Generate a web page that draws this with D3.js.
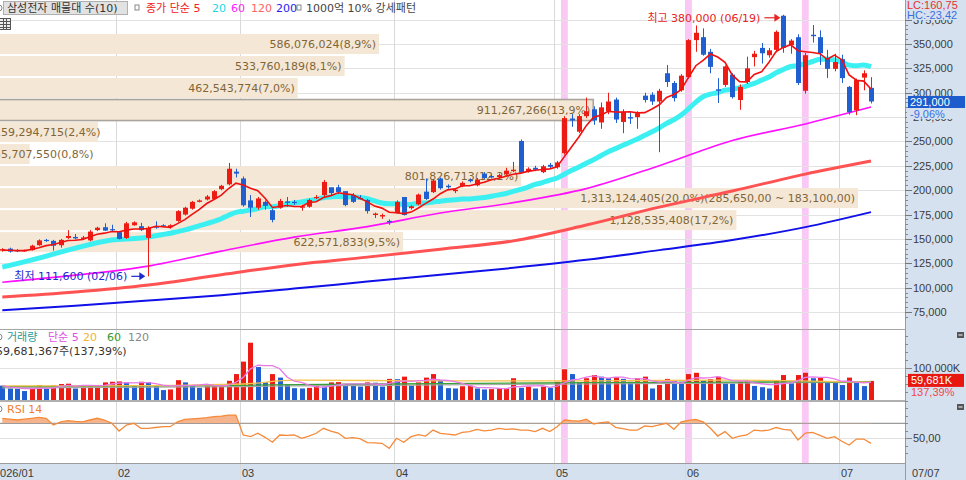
<!DOCTYPE html>
<html><head><meta charset="utf-8">
<script src="https://cdn.jsdelivr.net/npm/d3@7"></script>
<style>
html,body{margin:0;padding:0;background:#fff;overflow:hidden}
svg{display:block}
text{font-family:"DejaVu Sans","Noto Sans CJK KR",sans-serif;font-size:11px}
.ax{font-family:"Liberation Sans","Noto Sans CJK KR",sans-serif;font-size:11px;fill:#3a3a3a}
</style></head><body>
<svg id="c" width="966" height="480"></svg>
<script>
// ---------------- DATA ----------------
const opens = [138000,140000,138500,137500,138500,143500,149000,148000,143500,151000,
152000,150000,148500,159000,162000,160000,157000,151000,164000,163000,
151000,163000,164000,162000,168500,175000,181000,188000,190500,191000,
201000,206000,219000,212000,189500,182000,188000,179500,182000,188500,
188000,182000,183000,192000,195000,203000,203000,199000,195000,192000,
190000,174500,173000,168500,176500,193000,181500,185500,198500,198000,
212000,204500,199000,204000,210500,205000,217000,214500,213500,216500,
219500,250500,219500,223000,218500,226000,223500,238000,273500,260000,
276000,283000,269500,281000,293000,270000,275000,275000,297000,298000,
291000,320000,310000,302500,316000,354000,357000,342000,303500,308000,
318500,292500,311000,336500,346000,338500,344000,379000,349000,357000,
302000,359500,357000,335500,324500,334500,306000,282000,315500,305000];
const highs = [140500,141000,139500,139000,144000,149500,150000,149000,150000,159000,
155000,153000,159000,162500,166000,164500,158000,167500,168000,166500,
163000,168000,165000,165000,179500,183000,189000,190500,195000,200000,
205500,228000,222000,214000,195000,193000,189500,181000,191000,193000,
190000,185000,191500,195000,210500,202000,205500,199000,197000,195000,
191000,177000,176000,170000,189500,193000,184500,196500,212000,211500,
213000,206000,202000,209000,212000,212500,218500,216000,217000,223000,
229000,252000,223500,225000,226000,228000,230000,276000,278000,278000,
295000,286000,290000,300000,295000,283000,280000,281000,300000,300500,
304000,328500,312000,319000,355000,369000,366000,345000,315000,328000,
320000,308500,337000,343000,351000,346000,364000,380000,355000,360000,
341000,369500,364000,344000,340000,339000,307000,314500,323000,316000];
const lows = [137000,136000,136500,137000,138000,143000,147000,138000,141000,150000,
149500,149000,147500,158000,158000,158000,149500,150000,163500,158000,
111600,160500,162000,160500,167500,174000,180000,187500,189500,190500,
200000,205000,213000,183000,172500,180000,180000,167000,181000,183000,
185000,179000,182000,191000,193000,195000,196000,183500,187000,190500,
176000,171500,170500,164500,176000,174000,180000,184500,190000,197000,
200500,201500,197000,203000,208000,204000,211500,212000,212500,215500,
218500,217000,218000,219500,217500,222500,222000,236500,265000,258500,
274000,267000,263000,278000,269000,258500,268000,263000,290000,287500,
239000,306000,291000,301000,314500,342000,338000,320000,289500,306000,
294000,282500,309000,327000,330000,336000,341500,341000,340000,308000,
299000,351500,328500,315000,322000,310000,277500,277000,302500,289000];
const closes = [139500,137000,137500,138500,143000,148500,148000,143000,149000,153000,
150500,151500,157500,161500,158500,159000,150000,166000,167000,159000,
161500,161500,163000,164000,178500,182000,188000,189500,193500,199000,
204500,222000,217000,184500,182000,191500,184000,169500,189000,187000,
187000,183500,190000,193000,208500,197000,198000,184700,188000,191000,
178500,176000,174500,167000,188000,174500,183500,195500,191000,210000,
202000,203000,200500,207500,209500,211000,212500,213000,215500,220000,
221000,218000,222000,221000,224500,224000,228500,274000,271500,276000,
281000,271500,285000,291000,272500,280500,273500,279000,292500,291000,
302000,311000,294500,317500,354000,361500,339000,326500,302000,327000,
295500,306000,325000,340000,340500,343500,362500,346000,353500,310000,
338500,358000,340500,324500,331500,315000,280000,313000,320000,291000];
// volume, millions of shares
const volumes = [45,36,35,28,36,46,36,45,50,51,
36,45,46,47,55,57,58,54,45,57,
56,44,31,33,62,55,47,38,44,45,
47,60,81,120,179,103,55,81,70,50,
37,36,38,45,42,55,56,50,49,42,
55,54,42,66,65,73,45,55,70,81,
62,37,36,43,45,36,33,34,35,36,
68,38,42,36,42,38,57,96,81,54,
68,78,73,68,71,66,57,68,73,36,
47,66,59,57,81,85,62,65,73,52,
51,57,62,44,40,36,60,78,52,78,
85,68,69,55,54,47,70,54,43.438,59.681367];
const rsi14 = [76.7,75.5,74.4,75.5,76.7,78,76.7,67.7,72,73.5,
72.5,72,74.4,76.7,74.4,70,59.7,67.7,70,63.3,
63.3,64.4,65.5,65.5,72,75.3,76,76.7,77.5,78.8,
79.5,81,81,54.4,52.2,56.7,51.3,44.7,54.4,54,
54.4,50,53,56.7,63.3,59.5,57,50,51,49.5,
44.2,43.8,43.3,36.7,50,44.7,52.2,55,53,61,
56.7,55.5,54.4,58,58.9,62,60,61,63.3,62,
62.6,61,61,58.9,63.3,58.9,65.5,74.4,73.5,73,
75.5,69,71,72,64.7,63,61,61,66.4,65.5,
68,70,62,72,74,75.3,72,63.3,53,58.9,
50,53,54.4,61,60,61,64.4,62,61,47.8,
57,58,54,50,52.2,46,41,49,49,43.3];
const ma5Lead = [138500,138300,138000,138000];
const ma20LeadIdx = [0,5,10,15];
const ma20LeadVal = [121000,130300,140600,148800];
const maSampleIdx = [0,10,20,30,40,50,60,70,80,90,100,110,119];
const ma60 = [105600,112800,122100,137500,151800,162600,176500,187200,201600,225100,250900,268000,285300];
const ma120 = [90300,95400,102600,113200,123600,131300,139500,148000,164200,182600,199100,216500,229900];
const ma200 = [76900,81500,86700,92300,99000,106200,113200,120300,128500,138500,148800,162100,177500];
const volMaIdx = [0,20,33,40,60,80,100,119];
const volMa20 = [44,45,50,62,60,60,62,56];
const volMa60 = [42,44,46,48,51,54,56,57];
const volMa120 = [38,40,42,44,47,50,53,55];
const monthLabels = ["2026/01","02","03","04","05","06","07"];
const monthStart = [-1,16,33,54,76,94,115];
const lastDateLabel = "07/07";
const priceTicks = [75000,100000,125000,150000,175000,200000,225000,250000,275000,300000,325000,350000,375000];
const profileEdges = [361300,338710,316120,293530,270940,248350,225760,203170,180580,157990,135400];
const profileVol = [586076024,533760189,462543774,911267266,159294715,55707550,801826713,1313124405,1128535408,622571833];
const profilePct = ["8,9","8,1","7,0","13,9","2,4","0,8","12,2","20,0","17,2","9,5"];
const profileNote = "(285,650,00 ~ 183,100,00)";
const patternIdx = [77,94,110];
const lcText = "LC:160,75", hcText = "HC:-23,42";

// ---------------- CHART ----------------
const RED="#ec1c14", BLUE="#1f5fcf", AXBG="#d6e1ef";
const plotR=905;
const svg=d3.select("#c");
const n=closes.length, idx=d3.range(n);
const x=d3.scaleLinear().domain([0,119]).range([2.3,871]);
const y=d3.scaleLinear().domain([75000,350000]).range([312,44]);
const yv=d3.scaleLinear().domain([0,100]).range([400,368]);
const yr=d3.scaleLinear().domain([50,70]).range([438.3,423.3]);
const px=d3.scaleLinear().domain([0,d3.max(profileVol)]).range([-7,858]);
const fmt=d3.format(",");

const defs=svg.append("defs");
defs.append("clipPath").attr("id","cp").append("rect").attr("x",0).attr("y",0).attr("width",plotR).attr("height",329);
defs.append("clipPath").attr("id","cv").append("rect").attr("x",0).attr("y",331).attr("width",plotR).attr("height",69.5);
defs.append("clipPath").attr("id","cr").append("rect").attr("x",0).attr("y",402).attr("width",plotR).attr("height",61);
defs.append("clipPath").attr("id","cr70").append("rect").attr("x",0).attr("y",402).attr("width",plotR).attr("height",yr(70)-402);

// axis backgrounds
svg.append("rect").attr("x",plotR).attr("y",0).attr("width",966-plotR).attr("height",480).attr("fill",AXBG);
svg.append("rect").attr("x",0).attr("y",463.5).attr("width",plotR).attr("height",17).attr("fill",AXBG);

// pattern highlight columns
svg.append("g").selectAll("rect").data(patternIdx).join("rect")
  .attr("x",i=>x(i)-3.4).attr("width",6.8).attr("y",0).attr("height",463)
  .attr("fill","#f9c8f4");

// grid
svg.append("g").selectAll("line").data(priceTicks).join("line")
  .attr("x1",0).attr("x2",plotR).attr("y1",d=>Math.round(y(d))+0.5).attr("y2",d=>Math.round(y(d))+0.5)
  .attr("stroke","#e2e2e2");
svg.append("g").selectAll("line").data(monthStart).join("line")
  .attr("x1",d=>Math.round(x(d)-3)+0.5).attr("x2",d=>Math.round(x(d)-3)+0.5)
  .attr("y1",0).attr("y2",480).attr("stroke","#d9d9d9");
svg.append("line").attr("x1",0).attr("x2",plotR).attr("y1",Math.round(yv(100))+0.5).attr("y2",Math.round(yv(100))+0.5).attr("stroke","#e2e2e2");
svg.append("line").attr("x1",0).attr("x2",plotR).attr("y1",Math.round(yr(50))+0.5).attr("y2",Math.round(yr(50))+0.5).attr("stroke","#e2e2e2");

// volume profile bands
const gP=svg.append("g").attr("clip-path","url(#cp)");
const lastClose=closes[n-1];
profileVol.forEach((v,k)=>{
  const y0=y(profileEdges[k]), y1=y(profileEdges[k+1]);
  const cur = lastClose<profileEdges[k] && lastClose>=profileEdges[k+1];
  gP.append("rect").attr("x",px(0)).attr("y",cur?y0+0.5:y0+1).attr("width",px(v)-px(0)).attr("height",cur?y1-y0-1:y1-y0-2)
    .attr("fill","#f5e7d5").attr("stroke",cur?"#a9a49c":"none").attr("stroke-width",cur?1.6:0);
});
const gPL=svg.append("g").attr("clip-path","url(#cp)");
profileVol.forEach((v,k)=>{
  const y0=y(profileEdges[k]), y1=y(profileEdges[k+1]);
  let label=fmt(v)+"("+profilePct[k]+"%)";
  if(v===d3.max(profileVol)) label+=profileNote;
  const t=gPL.append("text").text(label).attr("y",(y0+y1)/2).attr("dy","0.36em").attr("fill","#7f6638");
  const w=t.node().getComputedTextLength();
  if(w+6 < px(v)-px(0)) t.attr("x",px(v)-3).attr("text-anchor","end");
  else t.attr("x",px(0)+1);
});

// moving averages (price)
const gM=svg.append("g").attr("clip-path","url(#cp)");
const lineS=d3.line().x(d=>x(d[0])).y(d=>y(d[1])).curve(d3.curveMonotoneX);
const pairs=(ix,vals)=>ix.map((k,j)=>[k,vals[j]]);
gM.append("path").attr("d",lineS(pairs(maSampleIdx,ma200))).attr("fill","none").attr("stroke","#1010e8").attr("stroke-width",2);
gM.append("path").attr("d",lineS(pairs(maSampleIdx,ma120))).attr("fill","none").attr("stroke","#ff5252").attr("stroke-width",3);
gM.append("path").attr("d",lineS(pairs(maSampleIdx,ma60))).attr("fill","none").attr("stroke","#ff10ff").attr("stroke-width",1.6);
const ma20pts=pairs(ma20LeadIdx,ma20LeadVal).concat(idx.filter(i=>i>=19).map(i=>[i,d3.mean(closes.slice(i-19,i+1))]));
gM.append("path").attr("d",lineS(ma20pts)).attr("fill","none").attr("stroke","#3cf0f2").attr("stroke-width",5);

// candles
const gC=svg.append("g").attr("clip-path","url(#cp)");
const col=i=>closes[i]>=opens[i]?RED:BLUE;
gC.selectAll("line").data(idx).join("line")
  .attr("x1",i=>Math.round(x(i))+0.5).attr("x2",i=>Math.round(x(i))+0.5)
  .attr("y1",i=>y(highs[i])).attr("y2",i=>y(lows[i])).attr("stroke",col);
gC.selectAll("rect").data(idx).join("rect")
  .attr("x",i=>Math.round(x(i))-2).attr("width",5)
  .attr("y",i=>y(Math.max(opens[i],closes[i])))
  .attr("height",i=>Math.max(1.2,Math.abs(y(opens[i])-y(closes[i]))))
  .attr("fill",col);

// MA5
const ma5pts=idx.map(i=>[i,i<4?ma5Lead[i]:d3.mean(closes.slice(i-4,i+1))]);
svg.append("path").attr("clip-path","url(#cp)").attr("d",d3.line().x(d=>x(d[0])).y(d=>y(d[1]))(ma5pts))
  .attr("fill","none").attr("stroke","#f01010").attr("stroke-width",1.6);

// high/low annotations
const hiI=d3.maxIndex(highs), loI=d3.minIndex(lows);
const ga=svg.append("g");
function arrow(g,x1,x2,yy,c){
  g.append("line").attr("x1",x1).attr("x2",x2-5).attr("y1",yy).attr("y2",yy).attr("stroke",c).attr("stroke-width",1.2);
  g.append("path").attr("d",`M${x2},${yy}L${x2-6},${yy-4}L${x2-6},${yy+4}Z`).attr("fill",c);
}
{
  const yy=y(lows[loI]), xe=x(loI)-3;
  arrow(ga,xe-14,xe,yy,"#1a2ad0");
  ga.append("text").attr("x",xe-18).attr("y",yy).attr("dy","0.36em").attr("text-anchor","end").attr("fill","#1a2ad0")
    .text("최저 "+fmt(lows[loI])+" (02/06)");
}
{
  const yy=y(highs[hiI])+3, xe=x(hiI)-3;
  arrow(ga,xe-16,xe,yy,"#e82424");
  ga.append("text").attr("x",xe-20).attr("y",yy).attr("dy","0.36em").attr("text-anchor","end").attr("fill","#e82424")
    .text("최고 "+fmt(highs[hiI])+" (06/19)");
}

// volume
const gV=svg.append("g").attr("clip-path","url(#cv)");
const vcol=i=>(i>0&&volumes[i]>volumes[i-1])?RED:BLUE;
gV.selectAll("rect").data(idx).join("rect")
  .attr("x",i=>Math.round(x(i))-2).attr("width",5)
  .attr("y",i=>yv(volumes[i])).attr("height",i=>400-yv(volumes[i])).attr("fill",vcol);
const lineV=d3.line().x(d=>x(d[0])).y(d=>yv(d[1])).curve(d3.curveMonotoneX);
gV.append("path").attr("d",lineV(pairs(volMaIdx,volMa120))).attr("fill","none").attr("stroke","#a8a8a8").attr("stroke-width",1.2);
gV.append("path").attr("d",lineV(pairs(volMaIdx,volMa60))).attr("fill","none").attr("stroke","#3aa03a").attr("stroke-width",1.3);
gV.append("path").attr("d",lineV(pairs(volMaIdx,volMa20))).attr("fill","none").attr("stroke","#f5c24a").attr("stroke-width",1.3);
gV.append("path").attr("d",d3.line().x(d=>x(d[0])).y(d=>yv(d[1]))(idx.map(i=>[i,d3.mean(volumes.slice(Math.max(0,i-4),i+1))])))
  .attr("fill","none").attr("stroke","#e87ae8").attr("stroke-width",1.3);

// RSI
const gR=svg.append("g").attr("clip-path","url(#cr)");
gR.append("line").attr("x1",0).attr("x2",plotR).attr("y1",yr(70)).attr("y2",yr(70)).attr("stroke","#9a9a9a").attr("stroke-width",1.3);
gR.append("path").attr("clip-path","url(#cr70)")
  .attr("d",d3.area().x(i=>x(i)).y0(yr(70)).y1(i=>yr(rsi14[i]))(idx)).attr("fill","#f6b48c");
gR.append("path").attr("d",d3.line().x(i=>x(i)).y(i=>yr(rsi14[i]))(idx)).attr("fill","none").attr("stroke","#f58b3a").attr("stroke-width",1.3);

// separators
[[329.5,"#a6a6a6",1.2],[401,"#b0b0b0",2],[463.5,"#9c9c9c",1.2]].forEach(([yy,c,w])=>
  svg.append("line").attr("x1",0).attr("x2",plotR).attr("y1",yy).attr("y2",yy).attr("stroke",c).attr("stroke-width",w));
svg.append("line").attr("x1",plotR+0.5).attr("x2",plotR+0.5).attr("y1",0).attr("y2",480).attr("stroke","#9a9a9a");

// right axes
const ga2=svg.append("g");
ga2.selectAll("line.mi").data(d3.range(70000,385000,5000)).join("line").attr("class","mi")
  .attr("x1",plotR).attr("x2",plotR+3).attr("y1",d=>Math.round(y(d))+0.5).attr("y2",d=>Math.round(y(d))+0.5).attr("stroke","#888");
ga2.selectAll("line.ma").data(priceTicks).join("line").attr("class","ma")
  .attr("x1",plotR).attr("x2",plotR+7).attr("y1",d=>Math.round(y(d))+0.5).attr("y2",d=>Math.round(y(d))+0.5).attr("stroke","#777");
ga2.selectAll("text").data(priceTicks).join("text").attr("class","ax")
  .attr("x",913).attr("y",d=>y(d)).attr("dy","0.36em").text(d=>fmt(d));
// volume axis
ga2.selectAll("line.vm").data(d3.range(25,225,25)).join("line").attr("class","vm")
  .attr("x1",plotR).attr("x2",d=>plotR+(d===100?7:3)).attr("y1",d=>Math.round(yv(d))+0.5).attr("y2",d=>Math.round(yv(d))+0.5).attr("stroke","#888");
ga2.append("text").attr("class","ax").attr("x",913).attr("y",yv(100)).attr("dy","0.36em").text(fmt(100000)+"K");
// rsi axis
ga2.selectAll("line.rm").data(d3.range(30,110,10)).join("line").attr("class","rm")
  .attr("x1",plotR).attr("x2",d=>plotR+(d===50?7:3)).attr("y1",d=>Math.round(yr(d))+0.5).attr("y2",d=>Math.round(yr(d))+0.5).attr("stroke","#888");
ga2.append("text").attr("class","ax").attr("x",913).attr("y",yr(50)).attr("dy","0.36em").text("50,00");

// LC / HC
svg.append("rect").attr("x",plotR+1).attr("y",0).attr("width",60).attr("height",20).attr("fill",AXBG);
svg.append("text").attr("class","ax").attr("x",907).attr("y",9).style("fill","#e83030").text(lcText);
svg.append("text").attr("class","ax").attr("x",907).attr("y",19).style("fill","#3a6ee0").text(hcText);

// current price tag
const chg=(lastClose/closes[n-2]-1)*100;
svg.append("rect").attr("x",908).attr("y",y(lastClose)-5.5).attr("width",57).attr("height",12).attr("fill","#1c5ccc");
svg.append("text").attr("class","ax").attr("x",910).attr("y",y(lastClose)+0.5).attr("dy","0.36em").style("fill","#fff").text(fmt(lastClose));
svg.append("rect").attr("x",907).attr("y",y(lastClose)+6.5).attr("width",58).attr("height",11).attr("fill",AXBG);
svg.append("text").attr("class","ax").attr("x",910).attr("y",y(lastClose)+12.5).attr("dy","0.36em").style("fill","#3a6ee0")
  .text(chg.toFixed(2).replace(".",",")+"%");

// volume tag
const lastV=volumes[n-1], vr=lastV/volumes[n-2]*100;
svg.append("rect").attr("x",908).attr("y",yv(lastV)-7).attr("width",56).attr("height",13).attr("fill","#e8170f");
svg.append("text").attr("class","ax").attr("x",911).attr("y",yv(lastV)-0.5).attr("dy","0.36em").style("fill","#fff").text(fmt(Math.floor(lastV*1000))+"K");
svg.append("text").attr("class","ax").attr("x",911).attr("y",yv(lastV)+11).attr("dy","0.36em").style("fill","#f04848").text(vr.toFixed(2).replace(".",",")+"%");

// panel icons
[335,407].forEach(yy=>{
  svg.append("rect").attr("x",957).attr("y",yy-3).attr("width",7).attr("height",6).attr("fill","#555");
  svg.append("line").attr("x1",958.5).attr("x2",962.5).attr("y1",yy).attr("y2",yy).attr("stroke","#fff");
});

// x axis labels
svg.append("g").selectAll("text").data(monthLabels).join("text").attr("class","ax")
  .attr("x",(d,k)=>Math.round(x(monthStart[k])-3)+2).attr("y",473).attr("dy","0.36em").text(d=>d);
svg.append("text").attr("class","ax").attr("x",912).attr("y",473).attr("dy","0.36em").text(lastDateLabel);

// legends
const lg=svg.append("g");
lg.append("circle").attr("cx",-1).attr("cy",8).attr("r",3).attr("fill","none").attr("stroke","#888");
lg.append("rect").attr("x",3.5).attr("y",1.5).attr("width",124).attr("height",13).attr("fill","#e2e2e2").attr("stroke","#b0b0b0");
lg.append("text").attr("x",7).attr("y",8).attr("dy","0.36em").attr("fill","#333").text("삼성전자 매물대 수(10)");
[135,297].forEach(xx=>lg.append("rect").attr("x",xx).attr("y",5).attr("width",4).attr("height",5).attr("fill","#fff").attr("stroke","#888"));
[["종가 단순 5",146,"#ee2222"],["20",212,"#1cd8e6"],["60",231,"#ff20ff"],["120",251,"#ff6464"],["200",276,"#2222f0"],["1000억 10% 강세패턴",306,"#444"]]
  .forEach(([t,xx,c])=>lg.append("text").attr("x",xx).attr("y",8).attr("dy","0.36em").attr("fill",c).text(t));
// small grid icon
lg.append("rect").attr("x",-1.5).attr("y",18.5).attr("width",12).attr("height",11).attr("fill","#eee").attr("stroke","#555");
[21.5,24.5,27.5].forEach(yy=>lg.append("line").attr("x1",0).attr("x2",10).attr("y1",yy).attr("y2",yy).attr("stroke","#555"));
[3.5,6.5].forEach(xx=>lg.append("line").attr("x1",xx).attr("x2",xx).attr("y1",19).attr("y2",29).attr("stroke","#555"));

// volume legend
lg.append("circle").attr("cx",-1).attr("cy",337).attr("r",3).attr("fill","none").attr("stroke","#888");
[["거래량",7,"#2a9a9a"],["단순 5",48,"#e050e0"],["20",83,"#f0b428"],["60",107,"#2e9a2e"],["120",128,"#888"]]
  .forEach(([t,xx,c])=>lg.append("text").attr("x",xx).attr("y",337).attr("dy","0.36em").attr("fill",c).text(t));
lg.append("text").attr("x",-4).attr("y",351).attr("dy","0.36em").attr("fill","#333")
  .text(fmt(Math.round(lastV*1e6))+"주("+vr.toFixed(2).replace(".",",")+"%)");
// rsi legend
lg.append("circle").attr("cx",-1).attr("cy",409).attr("r",3).attr("fill","none").attr("stroke","#888");
lg.append("text").attr("x",7).attr("y",409).attr("dy","0.36em").attr("fill","#f08030").text("RSI 14");
</script>
</body></html>
